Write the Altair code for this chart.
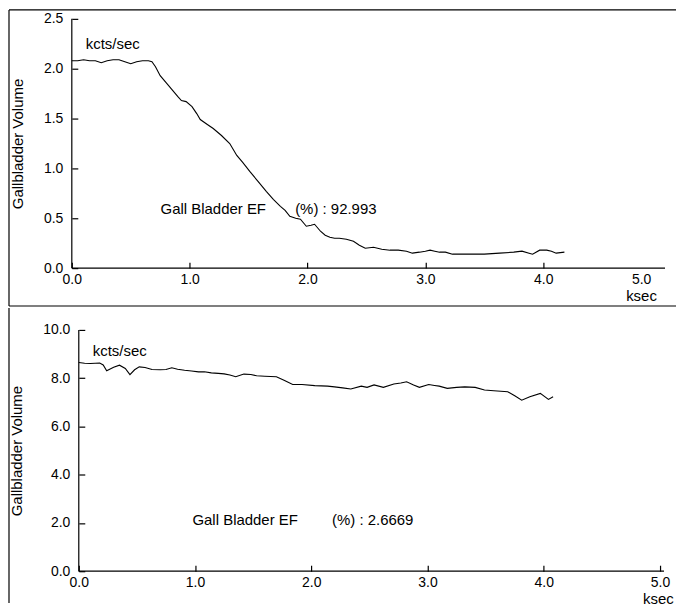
import altair as alt
import pandas as pd

# ---- data ----
top_t = [0.00, 0.05, 0.10, 0.15, 0.20, 0.25, 0.30, 0.35, 0.40, 0.45, 0.50, 0.55, 0.60, 0.65,
         0.68, 0.71, 0.75, 0.80, 0.85, 0.90, 0.93, 0.97, 1.02, 1.06, 1.09, 1.15, 1.20, 1.27,
         1.34, 1.40, 1.45, 1.51, 1.58, 1.65, 1.71, 1.77, 1.81, 1.85, 1.90, 1.94, 1.99, 2.03,
         2.06, 2.11, 2.15, 2.19, 2.23, 2.27, 2.33, 2.39, 2.44, 2.49, 2.56, 2.63, 2.70, 2.77,
         2.84, 2.89, 2.95, 3.00, 3.04, 3.08, 3.12, 3.17, 3.23, 3.35, 3.50, 3.63, 3.75, 3.82,
         3.88, 3.91, 3.97, 4.03, 4.07, 4.11, 4.18]
top_v = [2.08, 2.08, 2.09, 2.08, 2.08, 2.06, 2.08, 2.09, 2.09, 2.07, 2.05, 2.07, 2.08, 2.08,
         2.07, 2.02, 1.93, 1.86, 1.79, 1.72, 1.68, 1.67, 1.62, 1.55, 1.49, 1.44, 1.40, 1.33,
         1.25, 1.13, 1.06, 0.97, 0.87, 0.77, 0.69, 0.62, 0.58, 0.52, 0.50, 0.49, 0.42, 0.43,
         0.44, 0.37, 0.33, 0.31, 0.30, 0.30, 0.29, 0.27, 0.23, 0.20, 0.21, 0.19, 0.18, 0.18,
         0.17, 0.15, 0.16, 0.17, 0.18, 0.17, 0.16, 0.16, 0.14, 0.14, 0.14, 0.15, 0.16, 0.17,
         0.15, 0.14, 0.18, 0.18, 0.17, 0.15, 0.16]

bot_t = [0.00, 0.05, 0.10, 0.18, 0.21, 0.24, 0.30, 0.35, 0.40, 0.44, 0.48, 0.52, 0.57, 0.63,
         0.70, 0.75, 0.80, 0.85, 0.91, 0.97, 1.03, 1.08, 1.14, 1.20, 1.25, 1.30, 1.35, 1.42,
         1.48, 1.53, 1.60, 1.65, 1.70, 1.77, 1.84, 1.92, 2.03, 2.14, 2.20, 2.27, 2.34, 2.43,
         2.48, 2.54, 2.62, 2.71, 2.77, 2.82, 2.88, 2.93, 3.01, 3.06, 3.10, 3.17, 3.25, 3.32,
         3.41, 3.49, 3.57, 3.69, 3.75, 3.81, 3.88, 3.97, 4.04, 4.08]
bot_v = [8.65, 8.62, 8.61, 8.63, 8.55, 8.31, 8.45, 8.54, 8.40, 8.15, 8.35, 8.47, 8.44, 8.36,
         8.35, 8.36, 8.43, 8.37, 8.33, 8.30, 8.26, 8.27, 8.22, 8.20, 8.18, 8.13, 8.06, 8.17,
         8.15, 8.10, 8.08, 8.07, 8.06, 7.90, 7.74, 7.74, 7.69, 7.67, 7.64, 7.60, 7.55, 7.67,
         7.62, 7.72, 7.62, 7.76, 7.80, 7.85, 7.72, 7.62, 7.74, 7.70, 7.67, 7.58, 7.62, 7.64,
         7.62, 7.51, 7.48, 7.44, 7.27, 7.09, 7.23, 7.37, 7.12, 7.23]

x_ticks = [0.0, 1.0, 2.0, 3.0, 4.0, 5.0]
top_y_ticks = [0.0, 0.5, 1.0, 1.5, 2.0, 2.5]
bot_y_ticks = [0.0, 2.0, 4.0, 6.0, 8.0, 10.0]
y_title = "Gallbladder Volume"
unit_label = "kcts/sec"
x_unit = "ksec"
ef_label = "Gall Bladder EF"
top_ef = "(%) : 92.993"
bot_ef = "(%) : 2.6669"

FONT = "Liberation Sans"
FS = 14
SW = 1.2
TICK = 6


def panel(ts, vs, yticks, width, height, x0, x1, last_label_shift, last_tick_opacity,
          ef_text, ef_dx, ef_val_dx, ef_dy, kc_dx, kc_dy, ks_dx, ks_dy,
          frame_dx, frame_top, frame_bottom, right_end, divider):
    df = pd.DataFrame({"t": ts, "v": vs})
    xs = alt.Scale(domain=[0, 5], nice=False, zero=False, range=[x0, x1])
    ys = alt.Scale(domain=[yticks[0], yticks[-1]], nice=False)
    # axes sit TICK px inside the plot so their ticks point inward;
    # the axis lines themselves are drawn as rules below
    x_axis = alt.Axis(
        values=x_ticks, format=".1f", title=None, ticks=True, tickSize=TICK,
        tickColor="black", tickWidth=SW, grid=False, domain=False, offset=-TICK,
        labelPadding=4, labelFont=FONT, labelFontSize=FS, labelColor="black",
        labelFlush=False, orient="bottom",
        tickOpacity={"condition": {"test": "datum.value == 5",
                                   "value": last_tick_opacity}, "value": 1},
        labelOffset={"condition": {"test": "datum.value == 5",
                                   "value": last_label_shift}, "value": 0})
    y_axis = alt.Axis(
        values=yticks, format=".1f", title=y_title, ticks=True, tickSize=TICK,
        tickColor="black", tickWidth=SW, grid=False, domain=False, offset=-x0 - TICK,
        labelPadding=9, labelFont=FONT, labelFontSize=FS, labelColor="black",
        titleFont=FONT, titleFontSize=15, titleFontWeight="normal", titleColor="black",
        titlePadding=18, labelFlush=False, orient="left")
    line = alt.Chart(df).mark_line(color="black", strokeWidth=1.1).encode(
        x=alt.X("t:Q", scale=xs, axis=x_axis),
        y=alt.Y("v:Q", scale=ys, axis=y_axis),
    )
    one = alt.Chart(pd.DataFrame({"a": [0]}))
    txt = dict(font=FONT, fontSize=15, color="black", align="left", baseline="middle")
    t1 = one.mark_text(**txt).encode(x=alt.value(kc_dx), y=alt.value(kc_dy),
                                     text=alt.value(unit_label))
    t2 = one.mark_text(**txt).encode(x=alt.value(ef_dx), y=alt.value(ef_dy),
                                     text=alt.value(ef_label))
    t3 = one.mark_text(**txt).encode(x=alt.value(ef_val_dx), y=alt.value(ef_dy),
                                     text=alt.value(ef_text))
    t4 = one.mark_text(**txt).encode(x=alt.value(ks_dx), y=alt.value(ks_dy),
                                     text=alt.value(x_unit))
    rule = dict(color="black", strokeWidth=SW)
    rules = [
        # axis lines
        one.mark_rule(**rule).encode(x=alt.value(x0), y=alt.value(0), y2=alt.value(height)),
        one.mark_rule(**rule).encode(x=alt.value(x0), x2=alt.value(x1 + 4),
                                     y=alt.value(height)),
        # frame
        one.mark_rule(**rule).encode(
            x=alt.value(frame_dx), y=alt.value(frame_top), y2=alt.value(frame_bottom)),
    ]
    if divider:
        rules.append(one.mark_rule(**rule).encode(
            x=alt.value(frame_dx), x2=alt.value(right_end), y=alt.value(frame_top)))
        rules.append(one.mark_rule(**rule).encode(
            x=alt.value(frame_dx), x2=alt.value(right_end), y=alt.value(frame_bottom)))
    return alt.layer(line, t1, t2, t3, t4, *rules).properties(
        width=width, height=height)


top = panel(top_t, top_v, top_y_ticks, 596, 250, 0, 591, -20, 0,
            top_ef, 89, 224, 191, 14, 25, 556, 278, -63, -9, 288, 606, True)
bottom = panel(bot_t, bot_v, bot_y_ticks, 596, 242, 7, 590, 0, 1,
               bot_ef, 121, 261, 191, 21, 21, 573, 270, -63, -22, 274, 599, False)

chart = alt.vconcat(top, bottom, spacing=0, padding=0).configure_view(stroke=None)

chart.save("out.html", embed_options={"renderer": "svg", "actions": False})
